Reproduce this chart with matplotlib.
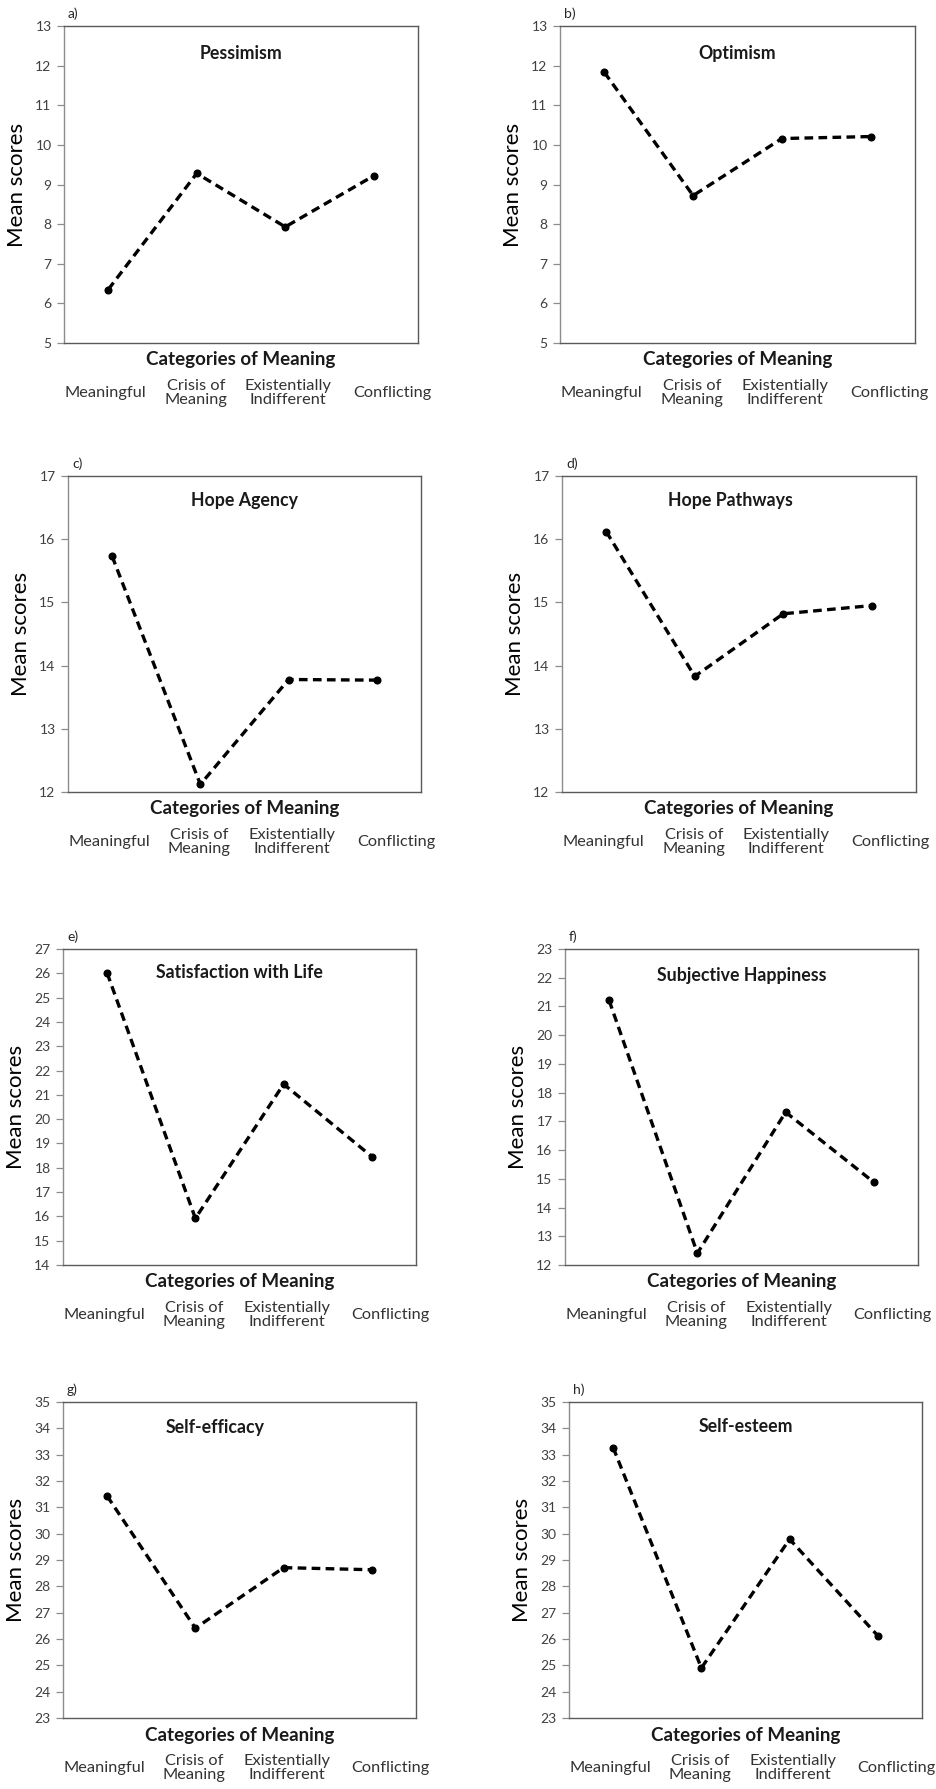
import matplotlib
matplotlib.use("Agg")
import matplotlib.pyplot as plt
import matplotlib.transforms as mtransforms

plt.rcParams['font.family'] = ['Lato', 'DejaVu Sans']

categories = ["Meaningful", "Crisis of\nMeaning", "Existentially\nIndifferent", "Conflicting"]

panel_letters = ["a)", "b)", "c)", "d)", "e)", "f)", "g)", "h)"]
titles = ["Pessimism", "Optimism", "Hope Agency", "Hope Pathways",
          "Satisfaction with Life", "Subjective Happiness", "Self-efficacy", "Self-esteem"]

pessimism = [6.35, 9.28, 7.93, 9.22]
optimism = [11.83, 8.72, 10.16, 10.21]
hope_agency = [15.73, 12.12, 13.78, 13.77]
hope_pathways = [16.12, 13.83, 14.82, 14.95]
satisfaction = [26.01, 15.92, 21.44, 18.46]
happiness = [21.21, 12.41, 17.32, 14.88]
self_efficacy = [31.43, 26.41, 28.71, 28.63]
self_esteem = [33.27, 24.90, 29.79, 26.12]

series = [pessimism, optimism, hope_agency, hope_pathways,
          satisfaction, happiness, self_efficacy, self_esteem]

y_ranges = [(5, 13), (5, 13), (12, 17), (12, 17), (14, 27), (12, 23), (23, 35), (23, 35)]

W, H = 936, 1789
fig = plt.figure(figsize=(W / 100, H / 100), dpi=100)

# axes boxes in pixels: (left, top, right, bottom)
boxes = [(64, 26, 418, 343), (560, 26, 915, 343),
         (68, 476, 421, 792), (562, 476, 916, 792),
         (63, 949, 416, 1265), (565, 949, 918, 1265),
         (63, 1402, 416, 1718), (569, 1402, 922, 1718)]
title_x = [0.5, 0.5, 0.5, 0.475, 0.5, 0.5, 0.43, 0.5]
title_dy = [27, 27, 25, 25, 24, 26, 25, 25]
label_offsets = [-3, -1, 3, 19]

for i in range(8):
    l, t, r, b = boxes[i]
    ax = fig.add_axes([l / W, 1 - b / H, (r - l) / W, (b - t) / H])
    x = list(range(len(categories)))
    ax.plot(x, series[i], color='black', linestyle=(0, (2.6, 1.6)), linewidth=2.4,
            marker='o', markersize=4.8, markeredgecolor='black', markerfacecolor='black')
    ax.set_xlim(-0.5, 3.5)
    lo, hi = y_ranges[i]
    ax.set_ylim(lo, hi)
    ax.set_yticks(range(lo, hi + 1))
    ax.tick_params(axis='y', direction='out', length=5, width=0.9, color='#8c8c8c',
                   labelsize=10, labelcolor='#404040', pad=4)
    ax.set_xticks(x)
    ax.set_xticklabels(categories, fontsize=11.8, color='#333333', linespacing=1.0)
    ax.tick_params(axis='x', length=0, pad=36)
    for j, lbl in enumerate(ax.get_xticklabels()):
        lbl.set_va('center')
        lbl.set_ha('center')
        lbl.set_multialignment('center')
        lbl.set_transform(lbl.get_transform() +
                          mtransforms.ScaledTranslation(label_offsets[j] / 100, 0, fig.dpi_scale_trans))
    for side in ['top', 'right', 'bottom']:
        ax.spines[side].set_color('#5a5a5a')
        ax.spines[side].set_linewidth(1.0)
    ax.spines['left'].set_color('#8c8c8c')
    ax.spines['left'].set_linewidth(1.0)
    ax.set_ylabel("Mean scores", fontsize=16, color='black', labelpad=6)
    ax.annotate("Categories of Meaning", xy=(0.5, 0), xycoords='axes fraction',
                xytext=(0, -17), textcoords='offset pixels', ha='center', va='center',
                fontsize=13.5, fontweight='bold', color='#1a1a1a')
    ax.annotate(titles[i], xy=(title_x[i], 1), xycoords='axes fraction',
                xytext=(0, -title_dy[i]), textcoords='offset pixels', ha='center', va='center',
                fontsize=12.8, fontweight='bold', color='#1a1a1a')
    ax.annotate(panel_letters[i], xy=(0, 1), xycoords='axes fraction',
                xytext=(4, 12), textcoords='offset pixels', ha='left', va='center',
                fontsize=10, color='#262626')

fig.savefig("out.png", dpi=100, facecolor='white')
